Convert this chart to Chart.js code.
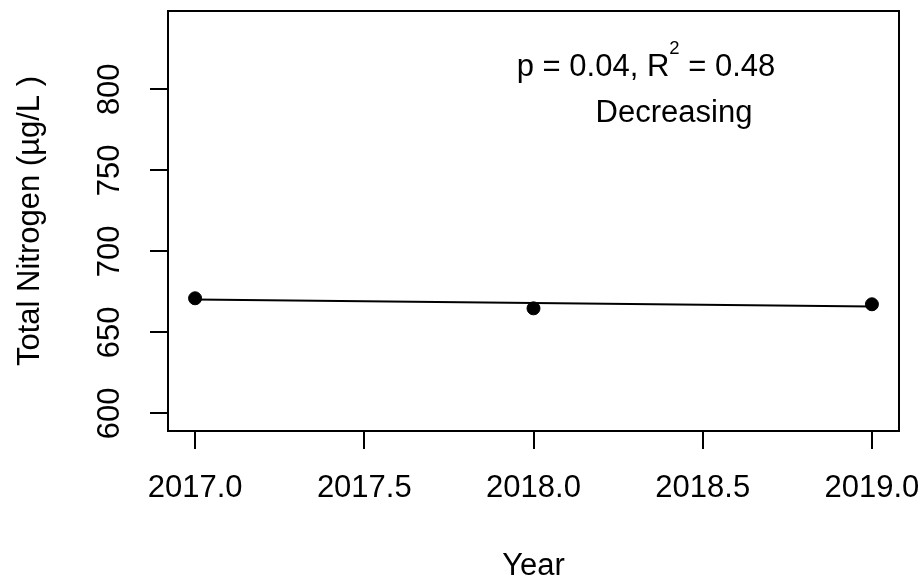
<!DOCTYPE html>
<html>
<head>
<meta charset="utf-8">
<script src="https://cdn.jsdelivr.net/npm/chart.js@4"></script>
<style>
  html, body { margin: 0; padding: 0; background: #fff; }
  canvas { display: block; }
</style>
</head>
<body>
<canvas id="tnChart" width="924" height="586"></canvas>
<script>
const years = [2017, 2018, 2019]
const nitrogen = [671.0, 664.8, 667.3]
const trendYears = [2017, 2019]
const trendValues = [670.2, 665.9]
const xTicks = [2017, 2017.5, 2018, 2018.5, 2019]
const yTicks = [600, 650, 700, 750, 800]

const FONT = 'Liberation Sans, Arial, sans-serif'
const SIZE = 31

// R-style full box around the plot region
const boxPlugin = {
    id: 'box',
    afterDraw(chart) {
        const { ctx, chartArea } = chart
        ctx.save()
        ctx.strokeStyle = '#000'
        ctx.lineWidth = 2
        ctx.strokeRect(chartArea.left, chartArea.top, chartArea.right - chartArea.left, chartArea.bottom - chartArea.top)
        ctx.restore()
    }
}

// p-value / R^2 annotation with a superscript 2
const notePlugin = {
    id: 'note',
    afterDraw(chart) {
        const ctx = chart.ctx
        ctx.save()
        ctx.fillStyle = '#000'
        ctx.textBaseline = 'alphabetic'
        ctx.textAlign = 'left'
        const big = SIZE + 'px ' + FONT
        const small = '18.5px ' + FONT
        const a = 'p = 0.04, R'
        const b = '2'
        const c = ' = 0.48'
        ctx.font = big
        const wa = ctx.measureText(a).width
        const wc = ctx.measureText(c).width
        ctx.font = small
        const wb = ctx.measureText(b).width
        let x = 646 - (wa + wb + wc) / 2
        const base = 76
        ctx.font = big
        ctx.fillText(a, x, base)
        x += wa
        ctx.font = small
        ctx.fillText(b, x, base - 22)
        x += wb
        ctx.font = big
        ctx.fillText(c, x, base)
        ctx.textAlign = 'center'
        ctx.fillText('Decreasing', 674, 122)
        ctx.restore()
    }
}

new Chart(document.getElementById('tnChart'), {
    type: 'scatter',
    data: {
        datasets: [
            {
                label: 'Total Nitrogen',
                data: years.map((y, i) => ({ x: y, y: nitrogen[i] })),
                backgroundColor: '#000',
                borderColor: '#000',
                pointRadius: 6.5,
                pointHoverRadius: 6.5,
                showLine: false,
                order: 1
            },
            {
                type: 'line',
                label: 'Trend',
                data: trendYears.map((y, i) => ({ x: y, y: trendValues[i] })),
                borderColor: '#000',
                borderWidth: 2,
                pointRadius: 0,
                fill: false,
                order: 2
            }
        ]
    },
    options: {
        responsive: false,
        animation: false,
        devicePixelRatio: 1,
        layout: { padding: { top: 11, right: 25, left: 0, bottom: 0 } },
        plugins: { legend: { display: false }, tooltip: { enabled: false } },
        scales: {
            x: {
                type: 'linear',
                min: 2016.92,
                max: 2019.08,
                afterBuildTicks: axis => { axis.ticks = xTicks.map(v => ({ value: v })) },
                afterFit: axis => { axis.height = 155; axis.paddingLeft = 0; axis.paddingRight = 0 },
                ticks: {
                    color: '#000',
                    font: { family: FONT, size: SIZE },
                    padding: 20.4,
                    autoSkip: false,
                    maxRotation: 0,
                    callback: v => Number(v).toFixed(1)
                },
                grid: { drawOnChartArea: false, drawTicks: true, tickLength: 18, color: '#000', lineWidth: 2 },
                border: { display: false },
                title: {
                    display: true,
                    text: 'Year',
                    color: '#000',
                    font: { family: FONT, size: SIZE },
                    padding: { top: 0, bottom: 0.9 }
                }
            },
            y: {
                min: 589.1,
                max: 848.3,
                afterBuildTicks: axis => { axis.ticks = yTicks.map(v => ({ value: v })) },
                afterFit: axis => { axis.width = 168; axis.paddingTop = 0; axis.paddingBottom = 0 },
                ticks: {
                    color: '#000',
                    font: { family: FONT, size: SIZE },
                    padding: 13.6,
                    autoSkip: false,
                    minRotation: 90,
                    maxRotation: 90,
                    crossAlign: 'center'
                },
                grid: { drawOnChartArea: false, drawTicks: true, tickLength: 18, color: '#000', lineWidth: 2 },
                border: { display: false },
                title: {
                    display: true,
                    text: 'Total Nitrogen (µg/L )',
                    color: '#000',
                    font: { family: FONT, size: SIZE },
                    padding: { top: 11.4, bottom: 0 }
                }
            }
        }
    },
    plugins: [boxPlugin, notePlugin]
})
</script>
</body>
</html>
